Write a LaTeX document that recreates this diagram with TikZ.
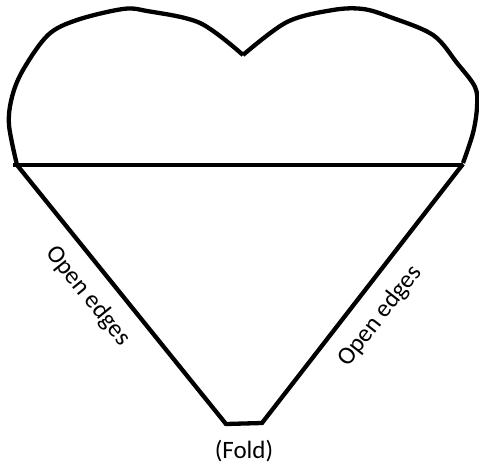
\documentclass[tikz,border=0pt]{standalone}
\usepackage{fontspec}
\setmainfont{Carlito}
\begin{document}
\begin{tikzpicture}[x=1pt,y=-1pt,
  outline/.style={line width=4.3pt,line join=miter,black},
  lbl/.style={font=\fontsize{25}{30}\selectfont,inner sep=0pt}]
\useasboundingbox (0,0) rectangle (479,470);
% heart top
\draw[outline] plot[smooth,tension=0.55] coordinates {(17,165) (9,125) (12,97) (23,70) (48,35) (77,20) (123,9) (147,11) (200,23) (243,55)};
\draw[outline] plot[smooth,tension=0.55] coordinates {(243,55) (287,22) (333,10) (363,9) (390,17) (433,35) (457,63) (475,87) (477,107) (473,133) (463,163)};
% fold line
\draw[outline] (13,165) -- (463,165);
% lower triangle
\draw[outline] (17,165) -- (226,424) -- (262,423) -- (463,164);
% labels
\node[lbl,rotate=-51] (left) at (88,296) {Open edges};
\node[lbl,rotate=52] (right) at (380,316) {Open edges};
\node[lbl] (fold) at (244,451) {(Fold)};
\end{tikzpicture}
\end{document}
